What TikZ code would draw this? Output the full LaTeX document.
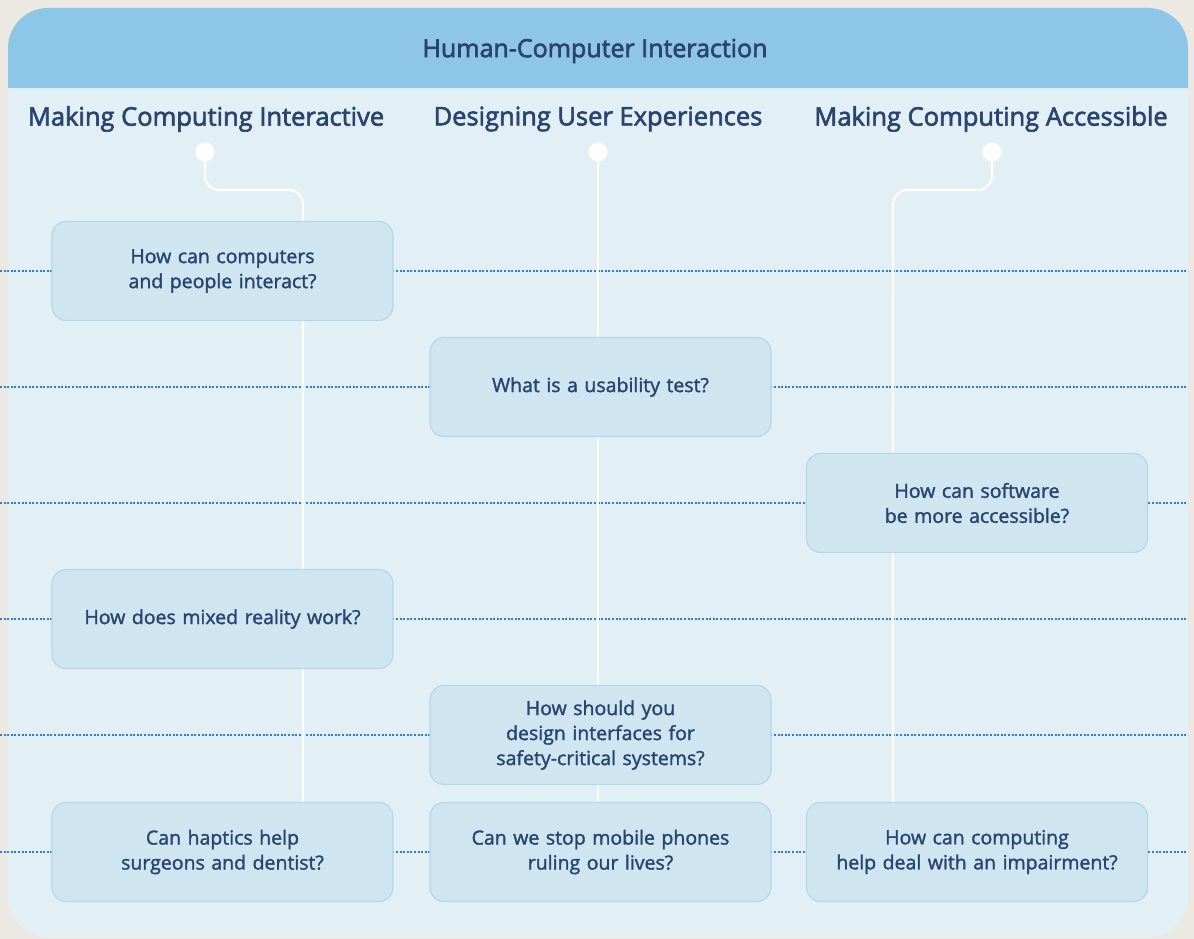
\documentclass[tikz,border=0pt]{standalone}
\usepackage{fontspec}
\setmainfont{Open Sans}[RawFeature={embolden=1.6}]
\newfontfamily\headfont{Open Sans}[RawFeature={embolden=2.4}]
\usetikzlibrary{positioning, calc}
\definecolor{pagebg}{HTML}{ECE9E3}
\definecolor{headblue}{HTML}{8DC6E7}
\definecolor{panelbg}{HTML}{E2F0F5}
\definecolor{boxfill}{HTML}{CFE6F1}
\definecolor{boxedge}{HTML}{B3D8EC}
\definecolor{navy}{HTML}{2A4470}
\definecolor{dotblue}{HTML}{2F7DCC}

\begin{document}
\begin{tikzpicture}[x=1pt, y=-1pt,
  qbox/.style={draw=boxedge, line width=1.2pt, fill=boxfill, rounded corners=14pt,
    minimum width=341pt, minimum height=99pt, text width=330pt, align=center,
    text=navy, font=\fontsize{19.5}{25}\selectfont},
  colhead/.style={text=navy, font=\headfont\fontsize{25.5}{30}\selectfont},
  rowline/.style={dotblue, line width=1.3pt, dash pattern=on 2pt off 1.6pt},
  trunk/.style={white, line width=2.2pt, rounded corners=14pt},
  knob/.style={circle, fill=white, inner sep=0pt, minimum size=19pt}]

\useasboundingbox (0,0) rectangle (1194,939);
\fill[pagebg] (0,0) rectangle (1194,939);

% Panel
\fill[panelbg, rounded corners=40pt] (8,8) rectangle (1188,937);
\begin{scope}
  \clip (8,8) rectangle (1188,89);
  \fill[headblue, rounded corners=40pt] (8,8) rectangle (1188,200);
\end{scope}
\draw[white!70!headblue, line width=1pt] (8,89) -- (1188,89);

% Title
\node[text=navy, font=\headfont\fontsize{25}{30}\selectfont] (title) at (595,51) {Human-Computer Interaction};

% --- Column headings ---
\node[colhead] (hInter) at (206,119) {Making Computing Interactive};
\node[colhead] (hDesign) at (598,119) {Designing User Experiences};
\node[colhead] (hAccess) at (991,119) {Making Computing Accessible};

% --- Row guides ---
\foreach \yy in {271,387,503,619,735,852}
  \draw[rowline] (0,\yy) -- (1188,\yy);

% --- Timelines ---
\node[knob] (kInter) at (205,152) {};
\node[knob] (kDesign) at (598,152) {};
\node[knob] (kAccess) at (992,152) {};
\coordinate (eInter) at (303,804);
\coordinate (eDesign) at (598,804);
\coordinate (eAccess) at (893,804);
\draw[trunk] (kInter.center) |- (303,190) -- (eInter);
\draw[trunk] (kDesign.center) -- (eDesign);
\draw[trunk] (kAccess.center) |- (893,190) -- (eAccess);

% --- Questions ---
\node[qbox] (qPeople) at (222.5,271) {How can computers\\and people interact?};
\node[qbox] (qUsability) at (600.5,387) {What is a usability test?};
\node[qbox] (qSoftware) at (977,503) {How can software\\be more accessible?};
\node[qbox] (qMixed) at (222.5,619) {How does mixed reality work?};
\node[qbox] (qSafety) at (600.5,735) {How should you\\design interfaces for\\safety-critical systems?};
\node[qbox] (qHaptics) at (222.5,852) {Can haptics help\\surgeons and dentist?};
\node[qbox] (qPhones) at (600.5,852) {Can we stop mobile phones\\ruling our lives?};
\node[qbox] (qImpair) at (977,852) {How can computing\\help deal with an impairment?};

\end{tikzpicture}
\end{document}
